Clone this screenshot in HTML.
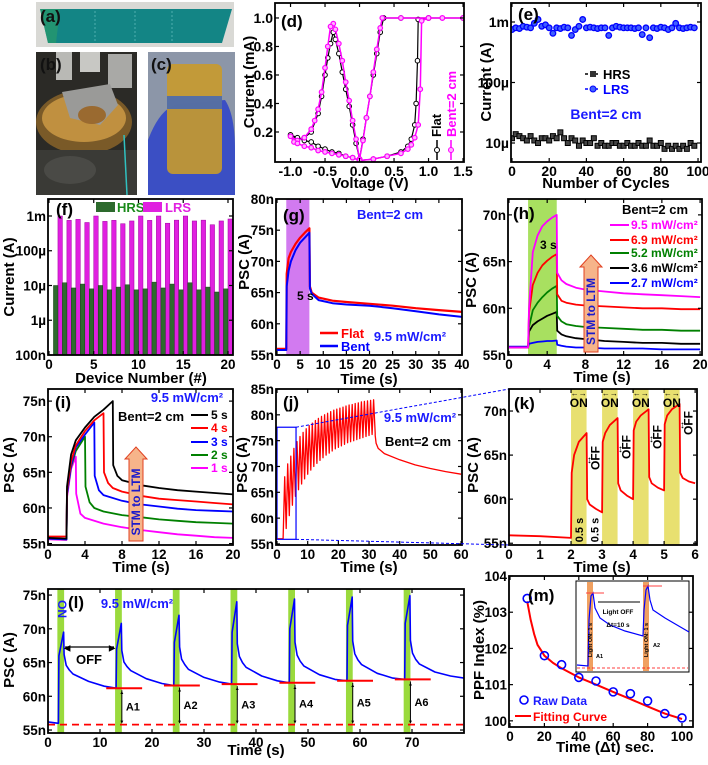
<!DOCTYPE html>
<html><head><meta charset="utf-8">
<style>
body{margin:0;background:#fff;width:708px;height:760px;overflow:hidden}
svg text{font-family:"Liberation Sans Narrow","Liberation Sans",sans-serif;font-weight:bold}
</style></head>
<body>
<svg id="fig" width="708" height="760" viewBox="0 0 708 760" xmlns="http://www.w3.org/2000/svg">
  <rect x="0" y="0" width="708" height="760" fill="#fff"/>
  <g>
    <rect x="36" y="2" width="198" height="45" fill="#d9d9d5"/>
    <polygon points="40,9 232,9 222,43 48,43" fill="#138585"/>
    <polygon points="40,9 60,9 56,43 48,43" fill="#2a9a6a" opacity="0.7"/>
    <line x1="95" y1="11" x2="95" y2="41" stroke="#4fb0b0" stroke-dasharray="2,2"/>
    <line x1="135" y1="11" x2="135" y2="41" stroke="#4fb0b0" stroke-dasharray="2,2"/>
    <line x1="172" y1="11" x2="172" y2="41" stroke="#4fb0b0" stroke-dasharray="2,2"/>
    <text x="40" y="22" font-size="17" fill="#111">(a)</text>
  </g>
  <g>
    <rect x="36" y="52" width="101" height="143" fill="#2b2a26"/>
    <rect x="56" y="52" width="16" height="28" fill="#b9b9b5"/>
    <rect x="80" y="52" width="20" height="20" fill="#c8c8c4"/>
    <rect x="108" y="54" width="24" height="34" fill="#a9a9a6"/>
    <ellipse cx="84" cy="122" rx="48" ry="32" fill="#7a5a28"/>
    <ellipse cx="84" cy="118" rx="42" ry="24" fill="#c09040"/>
    <polygon points="62,92 110,84 118,105 100,125 70,118" fill="#9a9a98"/>
    <ellipse cx="92" cy="115" rx="14" ry="9" fill="#9a6a30"/>
    <rect x="36" y="150" width="101" height="45" fill="#3a3a36"/>
    <ellipse cx="70" cy="170" rx="26" ry="14" fill="#4a4a46"/>
    <line x1="124" y1="135" x2="127" y2="195" stroke="#30c0c0" stroke-width="1.5"/>
    <text x="40" y="70" font-size="17" fill="#111">(b)</text>
  </g>
  <g>
    <rect x="148" y="52" width="87" height="143" fill="#8c96a8"/>
    <path d="M148,195 L148,140 Q160,108 178,104 L225,100 Q235,115 235,150 L235,195 Z" fill="#3b4fc4"/>
    <rect x="167" y="64" width="55" height="110" rx="6" fill="#c89a2c" opacity="0.9"/>
    <rect x="167" y="96" width="55" height="13" fill="#4a6ab0" opacity="0.9"/>
    <text x="151" y="70" font-size="17" fill="#111">(c)</text>
  </g>
</svg>
<script>
// ---------- DATA ----------
const dFlatV = [0,0.2,0.4,0.6,0.7,0.75,0.8,0.82,0.84,0.85,1.0,1.5,1.0,0.6,0.35,0.3,0.25,0.2,0.15,0.1,0.05,0,-0.05,-0.1,-0.15,-0.2,-0.25,-0.3,-0.35,-0.38,-0.42,-0.46,-0.5,-0.55,-0.6,-0.7,-0.8,-0.9,-1.0,-0.9,-0.8,-0.7,-0.6,-0.5,-0.4,-0.3,-0.2,-0.1,0];
const dFlatI = [0,0.01,0.03,0.06,0.1,0.15,0.25,0.4,0.7,0.99,1,1,1,1,1,0.9,0.75,0.6,0.45,0.3,0.15,0.01,0.12,0.25,0.38,0.5,0.62,0.75,0.85,0.9,0.82,0.72,0.6,0.45,0.33,0.2,0.16,0.15,0.18,0.16,0.14,0.13,0.1,0.08,0.06,0.05,0.03,0.02,0];
const dBentV = [0,0.2,0.4,0.6,0.7,0.75,0.8,0.85,0.88,0.9,1.0,1.2,1.5,1.2,1.0,0.6,0.33,0.3,0.25,0.2,0.15,0.1,0.05,0,-0.05,-0.1,-0.15,-0.2,-0.25,-0.3,-0.35,-0.38,-0.42,-0.46,-0.5,-0.55,-0.6,-0.65,-0.7,-0.8,-0.9,-1.0,-0.95,-0.9,-0.8,-0.7,-0.6,-0.5,-0.4,-0.3,-0.2,-0.1,0];
const dBentI = [0,0.01,0.03,0.05,0.08,0.11,0.16,0.25,0.5,0.98,1,1,1,1,1,1,1,0.93,0.78,0.62,0.45,0.3,0.14,0.01,0.15,0.28,0.42,0.55,0.7,0.82,0.92,0.96,0.94,0.8,0.65,0.48,0.36,0.28,0.22,0.16,0.14,0.17,0.13,0.12,0.1,0.09,0.07,0.06,0.05,0.04,0.03,0.02,0];
const eCycles = [0,2,4,6,8,10,12,14,16,18,20,22,24,26,28,30,32,34,36,38,40,42,44,46,48,50,52,54,56,58,60,62,64,66,68,70,72,74,76,78,80,82,84,86,88,90,92,94,96,98];
const eLRSmA = [0.75,0.8,0.78,0.85,0.82,0.8,0.95,1.1,0.85,0.9,0.8,0.65,0.8,0.78,0.82,0.8,0.6,0.75,0.85,1.1,0.8,0.82,0.8,0.78,0.8,0.8,0.6,0.8,0.85,0.82,0.8,0.8,0.8,0.78,0.8,0.62,0.8,0.55,0.8,0.78,0.82,0.8,0.75,0.8,0.95,0.8,0.78,0.8,0.82,0.8];
const eHRSuA = [12,14,13,12,11,13,11,10,12,12,11,13,12,15,12,10,12,11,9,11,10,10,12,9,10,9,9,10,10,9,9,10,9,9,10,9,9,11,9,9,10,8,9,8,9,8,9,8,10,9];
const fDevices = [1,2,3,4,5,6,7,8,9,10,11,12,13,14,15,16,17,18,19,20];
const fHRSuA = [10,12,8.5,11,8,10,7.5,9,10.5,7.5,8,12.5,8.5,11,7.5,12,7.5,9,6.5,8];
const fLRSmA = [1.0,0.75,0.8,0.65,1.0,0.7,0.75,0.6,0.72,1.0,0.75,1.0,0.62,0.76,1.0,0.72,0.76,0.56,0.72,0.82];
const gT = [0,1.9,2,2.1,2.5,3,4,5,6,7,7.1,7.5,9,12,15,20,25,30,35,40];
const gFlat = [56,56,56,68,70.5,71.5,72.8,73.8,74.6,75.3,66,65,64.2,63.7,63.5,63.2,62.9,62.5,62.2,61.9];
const gBent = [55.8,55.8,55.8,66,68.5,70,71.8,73,73.8,74.6,65.7,64.8,63.8,63.3,63.1,62.9,62.5,62,61.5,61.1];
const hT = [0,1.95,2,2.1,2.5,3,3.5,4,4.5,5,5.05,5.5,6,7,8,10,12,14,16,18,20];
const h95 = [55.8,55.8,55.8,60,66,67.8,68.8,69.3,69.7,70,63.8,63,62.6,62.2,62,61.8,61.6,61.5,61.4,61.3,61.2];
const h69 = [55.8,55.8,55.8,59.5,62.5,63.8,64.6,65.1,65.5,65.8,61.5,60.8,60.6,60.4,60.3,60.2,60.1,60,60,59.9,59.9];
const h52 = [55.8,55.8,55.8,58,59.8,60.6,61.2,61.7,62.1,62.4,59.2,58.6,58.3,58.1,58,57.9,57.8,57.7,57.7,57.6,57.6];
const h36 = [55.8,55.8,55.8,57.5,58.2,58.6,58.9,59.2,59.4,59.6,57.6,57.2,57,56.8,56.7,56.5,56.4,56.3,56.3,56.2,56.2];
const h27 = [55.9,55.9,55.9,56.2,56.3,56.4,56.45,56.5,56.5,56.55,56.1,56,55.9,55.8,55.8,55.7,55.7,55.7,55.6,55.6,55.6];
const i5T = [0,2,2.05,2.5,3,4,5,6,7,7.05,7.5,8,10,12,14,16,18,20];
const i5V = [55.8,55.7,63,67.5,69.5,71.3,72.8,73.8,75,66,64.5,63.9,63.2,62.8,62.5,62.3,62.1,61.9];
const i4T = [0,2,2.05,2.5,3,4,5,6,6.05,6.5,7,8,10,12,14,16,18,20];
const i4V = [56,56,62.5,66.5,68.8,70.8,72.3,73.3,65,63.5,62.8,62.3,61.7,61.3,61.1,60.9,60.7,60.5];
const i3T = [0,2,2.05,2.5,3,4,5,5.05,5.5,6,8,10,12,14,16,18,20];
const i3V = [55.7,55.6,62,66,68.5,70.3,72,64.5,62.5,61.8,61,60.5,60.2,59.9,59.7,59.6,59.5];
const i2T = [0,2,2.05,2.5,3,4,4.05,4.5,5,6,8,10,12,14,16,18,20];
const i2V = [55.7,55.6,62,65.8,68,70,63,60.8,60,59.5,59,58.7,58.4,58.2,58,57.9,57.8];
const i1T = [0,2,2.05,2.5,3,3.05,3.5,4,6,8,10,12,14,16,18,20];
const i1V = [55.6,55.5,61.5,65.5,67.2,62,59.2,58.6,57.8,57.3,56.9,56.6,56.3,56.1,55.9,55.8];
const jPeaks = [68,70.5,72,73.5,74.8,75.8,76.6,77.3,77.9,78.4,78.9,79.3,79.7,80,80.3,80.6,80.9,81.1,81.3,81.5,81.7,81.9,82,82.2,82.3,82.5,82.6,82.7,82.8,82.9];
const jTroughs = [58,60.5,62.5,64.2,65.5,66.6,67.6,68.5,69.3,70,70.6,71.2,71.7,72.2,72.6,73,73.4,73.7,74,74.3,74.6,74.8,75,75.2,75.4,75.6,75.8,76,76.2,76.4];
const jDecayT = [32,32.3,33,35,40,45,50,55,60];
const jDecayV = [76,74.5,73.5,72.5,71.3,70.3,69.6,69,68.5];
const kT = [0,1,2,2.02,2.1,2.25,2.5,2.52,2.6,2.8,3,3.02,3.1,3.25,3.5,3.52,3.6,3.8,4,4.02,4.1,4.25,4.5,4.52,4.6,4.8,5,5.02,5.1,5.25,5.5,5.52,5.6,5.8,6];
const kV = [55.9,55.8,55.6,63,65,66.5,67.5,60,59.4,58.9,58.5,66.5,67.5,68.4,69.2,61.8,61,60.4,60,67.8,68.8,69.5,70.2,62.5,61.8,61.3,61,68.5,69.5,70.2,70.8,63,62.4,62,61.8];
const kBands = [2,3,4,5];
const lStart = [1.8,12.9,24,35.1,46.2,57.3,68.4];
const lBase = [56,61.2,61.6,61.8,62,62.3,62.5];
const lRise = [66,67,68,69.5,70,70.5,70.8];
const lPeak = [69.5,70.8,72,74,74.4,74.7,74.9];
const lDrop = [66.2,66.8,67.3,67.8,68,68.2,68.3];
const lDrop2 = [64.6,65.1,65.5,65.9,66.1,66.3,66.4];
const lMid0 = [63.9,64.4,64.7,65,65.2,65.4,65.5];
const lMid = [63.3,63.8,64,64.3,64.5,64.7,64.8];
const lMid2 = [62.2,62.6,62.8,63,63.2,63.4,63.6];
const lMid3 = [61.5,61.9,62.1,62.3,62.5,62.7,63.0];
const lEnd = 62.7;
const lBaseline = 55.8;
const lLabels = ['A1','A2','A3','A4','A5','A6'];
const mT = [10,20,30,40,50,60,70,80,90,100];
const mRaw = [103.38,101.8,101.55,101.2,101.1,100.8,100.75,100.55,100.2,100.08];
const mFitT = [10,12,14,16,18,20,25,30,40,50,60,70,80,90,100];
const mFitV = [103.3,102.8,102.4,102.1,101.95,101.8,101.6,101.45,101.2,101.0,100.8,100.6,100.4,100.2,100.05];

// ---------- HELPERS ----------
const NS = 'http://www.w3.org/2000/svg';
const svg = document.getElementById('fig');
function mk(tag, attrs, parent, name) {
  const el = document.createElementNS(NS, tag);
  for (const k in attrs) el.setAttribute(k, attrs[k]);
  
  
  (parent || svg).appendChild(el);
  return el;
}
function tx(x, y, s, size, color, anchor, parent, name, rot) {
  const t = mk('text', {x: x, y: y, 'font-size': size, fill: color || '#000', 'text-anchor': anchor || 'start'}, parent, name);
  if (rot) t.setAttribute('transform', 'rotate(' + rot + ' ' + x + ' ' + y + ')');
  t.textContent = s;
  return t;
}
function panel(o) {
  o.g = mk('g', {}, svg, o.name);
  const lg = (v) => Math.log10(v);
  o.sx = (v) => o.L + (v - o.xd[0]) / (o.xd[1] - o.xd[0]) * (o.R - o.L);
  o.sy = o.ylog
    ? (v) => o.B - (lg(v) - lg(o.yd[0])) / (lg(o.yd[1]) - lg(o.yd[0])) * (o.B - o.T)
    : (v) => o.B - (v - o.yd[0]) / (o.yd[1] - o.yd[0]) * (o.B - o.T);
  const cp = mk('clipPath', {id: o.name + '-clip'}, o.g, o.name + '-clip');
  mk('rect', {x: o.L, y: o.T, width: o.R - o.L, height: o.B - o.T}, cp, o.name + '-clip-rect');
  o.dg = mk('g', {'clip-path': 'url(#' + o.name + '-clip)'}, o.g, o.name + '-plot-area');
  return o;
}
function frame(o) {
  const fs = o.fs || 13.5;
  o.xt.forEach((v, i) => {
    const x = o.sx(v);
    mk('line', {x1: x, y1: o.B, x2: x, y2: o.B - 4, stroke: '#000', 'stroke-width': 1.2}, o.g, o.name + '-x-tick');
    mk('line', {x1: x, y1: o.T, x2: x, y2: o.T + 4, stroke: '#000', 'stroke-width': 1.2}, o.g, o.name + '-x-tick-top');
    tx(x, o.B + 14, o.xl[i], fs, '#000', 'middle', o.g, o.name + '-x-tick-label');
  });
  o.yt.forEach((v, i) => {
    const y = o.sy(v);
    mk('line', {x1: o.L, y1: y, x2: o.L + 4, y2: y, stroke: '#000', 'stroke-width': 1.2}, o.g, o.name + '-y-tick');
    mk('line', {x1: o.R, y1: y, x2: o.R - 4, y2: y, stroke: '#000', 'stroke-width': 1.2}, o.g, o.name + '-y-tick-right');
    tx(o.L - 2, y + 5, o.yl[i], fs, '#000', 'end', o.g, o.name + '-y-tick-label');
  });
  mk('rect', {x: o.L, y: o.T, width: o.R - o.L, height: o.B - o.T, fill: 'none', stroke: '#000', 'stroke-width': 1.8}, o.g, o.name + '-frame');
  tx(o.xtx, o.xty, o.xtitle, 15, '#000', 'middle', o.g, o.name + '-x-axis-title');
  tx(o.ytx, o.yty, o.ytitle, 15, '#000', 'middle', o.g, o.name + '-y-axis-title', -90);
  tx(o.lx, o.ly, o.letter, 17, '#000', 'start', o.g, o.name + '-panel-label');
}
function line(o, xs, ys, color, w, name, dash) {
  const pts = xs.map((x, i) => o.sx(x).toFixed(1) + ',' + o.sy(ys[i]).toFixed(1)).join(' ');
  const a = {points: pts, fill: 'none', stroke: color, 'stroke-width': w, 'stroke-linejoin': 'round'};
  if (dash) a['stroke-dasharray'] = dash;
  return mk('polyline', a, o.dg, name);
}
function band(o, x0, x1, color, name) {
  return mk('rect', {x: o.sx(x0), y: o.T, width: o.sx(x1) - o.sx(x0), height: o.B - o.T, fill: color}, o.dg, name);
}
function range(a, b, s) { const r = []; for (let v = a; v <= b + 1e-9; v += s) r.push(+v.toFixed(6)); return r; }

// ---------- (d) ----------
const D = panel({name: 'panel-d', L: 275, R: 464, T: 3, B: 162, xd: [-1.225, 1.514], yd: [-0.0105, 1.105],
  xt: [-1, -0.5, 0, 0.5, 1, 1.5], xl: ['-1.0', '-0.5', '0.0', '0.5', '1.0', '1.5'],
  yt: [0.2, 0.4, 0.6, 0.8, 1.0], yl: ['0.2', '0.4', '0.6', '0.8', '1.0'],
  xtitle: 'Voltage (V)', xtx: 370, xty: 188, ytitle: 'Current (mA)', ytx: 254, yty: 82, letter: '(d)', lx: 281, ly: 27, fs: 14});
line(D, dFlatV, dFlatI, '#000', 1.2, 'flat-iv-line');
dFlatV.forEach((v, i) => mk('circle', {cx: D.sx(v), cy: D.sy(dFlatI[i]), r: 2.3, fill: '#fff', stroke: '#000', 'stroke-width': 1}, D.dg, 'flat-iv-point'));
line(D, dBentV, dBentI, '#ff00ff', 1.5, 'bent-iv-line');
dBentV.forEach((v, i) => mk('circle', {cx: D.sx(v), cy: D.sy(dBentI[i]), r: 2.3, fill: '#ffb0ff', stroke: '#ff00ff', 'stroke-width': 1.2}, D.dg, 'bent-iv-point'));
frame(D);
mk('line', {x1: 437, y1: 140, x2: 437, y2: 160, stroke: '#000', 'stroke-width': 1.5}, D.g, 'legend-flat-line');
mk('circle', {cx: 437, cy: 150, r: 2.5, fill: '#fff', stroke: '#000'}, D.g, 'legend-flat-marker');
tx(441, 137, 'Flat', 13, '#000', 'start', D.g, 'legend-flat-label', -90);
mk('line', {x1: 451, y1: 140, x2: 451, y2: 160, stroke: '#ff00ff', 'stroke-width': 1.5}, D.g, 'legend-bent-line');
mk('circle', {cx: 451, cy: 150, r: 2.5, fill: '#ffb0ff', stroke: '#ff00ff'}, D.g, 'legend-bent-marker');
tx(456, 137, 'Bent=2 cm', 13, '#ff00ff', 'start', D.g, 'legend-bent-label', -90);

// ---------- (e) ----------
const E = panel({name: 'panel-e', L: 511, R: 701, T: 3, B: 162, xd: [-0.53, 101.6], ylog: true, yd: [Math.pow(10, -5.314), Math.pow(10, -2.686)],
  xt: [0, 20, 40, 60, 80, 100], xl: ['0', '20', '40', '60', '80', '100'],
  yt: [1e-5, 1e-4, 1e-3], yl: ['10µ', '100µ', '1m'],
  xtitle: 'Number of Cycles', xtx: 606, xty: 188, ytitle: 'Current (A)', ytx: 491, yty: 82, letter: '(e)', lx: 518, ly: 20, fs: 14});
eCycles.forEach((c, i) => mk('rect', {x: E.sx(c) - 2.5, y: E.sy(eHRSuA[i] * 1e-6) - 2.5, width: 5, height: 5, fill: '#444', stroke: '#000', 'stroke-width': 1}, E.dg, 'hrs-point'));
eCycles.forEach((c, i) => mk('circle', {cx: E.sx(c), cy: E.sy(eLRSmA[i] * 1e-3), r: 2.8, fill: '#4060ff', stroke: '#0000ff', 'stroke-width': 1.3}, E.dg, 'lrs-point'));
frame(E);
mk('line', {x1: 585, y1: 74, x2: 600, y2: 74, stroke: '#000', 'stroke-width': 1.5, 'stroke-dasharray': '3,2'}, E.g, 'legend-hrs-line');
mk('rect', {x: 590, y: 71, width: 6, height: 6, fill: '#333'}, E.g, 'legend-hrs-marker');
tx(603, 79, 'HRS', 13, '#000', 'start', E.g, 'legend-hrs-label');
mk('line', {x1: 585, y1: 89, x2: 600, y2: 89, stroke: '#0000ff', 'stroke-width': 1.5, 'stroke-dasharray': '3,2'}, E.g, 'legend-lrs-line');
mk('circle', {cx: 593, cy: 89, r: 3, fill: '#4060ff', stroke: '#0000ff'}, E.g, 'legend-lrs-marker');
tx(603, 94, 'LRS', 13, '#0000ff', 'start', E.g, 'legend-lrs-label');
tx(606, 119, 'Bent=2 cm', 14, '#1a1aff', 'middle', E.g, 'bent-annotation');

// ---------- (f) ----------
const F = panel({name: 'panel-f', L: 48, R: 233, T: 199, B: 355, xd: [-0.11, 20.56], ylog: true, yd: [1e-7, Math.pow(10, -2.511)],
  xt: [0, 5, 10, 15, 20], xl: ['0', '5', '10', '15', '20'],
  yt: [1e-7, 1e-6, 1e-5, 1e-4, 1e-3], yl: ['100n', '1µ', '10µ', '100µ', '1m'],
  xtitle: 'Device Number (#)', xtx: 141, xty: 383, ytitle: 'Current (A)', ytx: 14, yty: 277, letter: '(f)', lx: 56, ly: 215});
fDevices.forEach((d, i) => {
  mk('rect', {x: F.sx(d), y: F.sy(fLRSmA[i] * 1e-3), width: F.sx(0.5) - F.sx(0), height: F.B - F.sy(fLRSmA[i] * 1e-3), fill: '#e020e0', stroke: '#a000a0', 'stroke-width': 0.5}, F.dg, 'lrs-bar');
  mk('rect', {x: F.sx(d - 0.5), y: F.sy(fHRSuA[i] * 1e-6), width: F.sx(d) - F.sx(d - 0.5), height: F.B - F.sy(fHRSuA[i] * 1e-6), fill: '#2d6a2d', stroke: '#174017', 'stroke-width': 0.5}, F.dg, 'hrs-bar');
});
frame(F);
mk('rect', {x: 96, y: 202, width: 19, height: 10, fill: '#2d6a2d'}, F.g, 'legend-hrs-swatch');
tx(117, 212, 'HRS', 13, '#1a8a1a', 'start', F.g, 'legend-hrs-label');
mk('rect', {x: 143, y: 202, width: 19, height: 10, fill: '#e020e0'}, F.g, 'legend-lrs-swatch');
tx(165, 212, 'LRS', 13, '#e020e0', 'start', F.g, 'legend-lrs-label');

// ---------- (g) ----------
const G = panel({name: 'panel-g', L: 276, R: 462, T: 199, B: 355, xd: [-0.22, 40], yd: [55, 80],
  xt: range(0, 40, 5), xl: range(0, 40, 5).map(String),
  yt: range(55, 80, 5), yl: range(55, 80, 5).map(v => v + 'n'),
  xtitle: 'Time (s)', xtx: 369, xty: 384, ytitle: 'PSC (A)', ytx: 249, yty: 262, letter: '(g)', lx: 283, ly: 221});
band(G, 2, 7, '#d27af0', 'light-on-band');
line(G, gT, gFlat, '#ff0000', 2.2, 'flat-psc-line');
line(G, gT, gBent, '#0000ff', 2, 'bent-psc-line');
frame(G);
tx(297, 300, '5 s', 12, '#000', 'start', G.g, 'pulse-duration-label');
tx(390, 219, 'Bent=2 cm', 13, '#1a1aff', 'middle', G.g, 'bent-annotation');
mk('line', {x1: 320, y1: 333, x2: 338, y2: 333, stroke: '#ff0000', 'stroke-width': 2.5}, G.g, 'legend-flat-line');
tx(341, 338, 'Flat', 13, '#ff0000', 'start', G.g, 'legend-flat-label');
mk('line', {x1: 320, y1: 346, x2: 338, y2: 346, stroke: '#0000ff', 'stroke-width': 2.5}, G.g, 'legend-bent-line');
tx(341, 351, 'Bent', 13, '#0000ff', 'start', G.g, 'legend-bent-label');
tx(410, 341, '9.5 mW/cm²', 13, '#1a1aff', 'middle', G.g, 'intensity-annotation');

// ---------- (h) ----------
const H = panel({name: 'panel-h', L: 508, R: 702, T: 199, B: 355, xd: [-0.1, 20.2], yd: [55, 71.7],
  xt: range(0, 20, 4), xl: range(0, 20, 4).map(String),
  yt: [55, 60, 65, 70], yl: ['55n', '60n', '65n', '70n'],
  xtitle: 'Time (s)', xtx: 602, xty: 382, ytitle: 'PSC (A)', ytx: 476, yty: 280, letter: '(h)', lx: 513, ly: 219});
band(H, 2, 5, '#a8e060', 'light-on-band');
line(H, hT, h27, '#0000ff', 1.8, 'series-2.7');
line(H, hT, h36, '#000', 1.8, 'series-3.6');
line(H, hT, h52, '#008000', 1.8, 'series-5.2');
line(H, hT, h69, '#ff0000', 1.8, 'series-6.9');
line(H, hT, h95, '#ff00ff', 1.8, 'series-9.5');
frame(H);
tx(540, 249, '3 s', 12, '#000', 'start', H.g, 'pulse-duration-label');
tx(655, 214, 'Bent=2 cm', 13, '#000', 'middle', H.g, 'bent-annotation');
const hLeg = [['9.5 mW/cm²', '#ff00ff', 225], ['6.9 mW/cm²', '#ff0000', 240], ['5.2 mW/cm²', '#008000', 253], ['3.6 mW/cm²', '#000', 268], ['2.7 mW/cm²', '#0000ff', 283]];
hLeg.forEach(l => {
  mk('line', {x1: 610, y1: l[2], x2: 629, y2: l[2], stroke: l[1], 'stroke-width': 2}, H.g, 'legend-line');
  tx(631, l[2] + 4, l[0], 12, l[1], 'start', H.g, 'legend-label');
});
function stmArrow(parent, cx, top, bottom, name) {
  const g = mk('g', {}, parent, name);
  const pts = [[cx - 7, bottom], [cx - 7, top + 12], [cx - 11, top + 12], [cx, top], [cx + 11, top + 12], [cx + 7, top + 12], [cx + 7, bottom]].map(p => p.join(',')).join(' ');
  mk('polygon', {points: pts, fill: '#f6b48a', stroke: '#e04020', 'stroke-width': 1}, g, name + '-shape');
  tx(cx + 4, (top + bottom) / 2 + 8, 'STM to LTM', 12, '#1a1acc', 'middle', g, name + '-label', -90);
}
stmArrow(H.g, 591, 255, 352, 'stm-ltm-arrow');

// ---------- (i) ----------
const I = panel({name: 'panel-i', L: 48, R: 233, T: 389, B: 545, xd: [0, 20], yd: [54.8, 76.7],
  xt: range(0, 20, 4), xl: range(0, 20, 4).map(String),
  yt: range(55, 75, 5), yl: range(55, 75, 5).map(v => v + 'n'),
  xtitle: 'Time (s)', xtx: 141, xty: 572, ytitle: 'PSC (A)', ytx: 14, yty: 465, letter: '(i)', lx: 55, ly: 408});
line(I, i1T, i1V, '#ff00ff', 1.8, 'series-1s');
line(I, i2T, i2V, '#008000', 1.8, 'series-2s');
line(I, i3T, i3V, '#0000ff', 1.8, 'series-3s');
line(I, i4T, i4V, '#ff0000', 1.8, 'series-4s');
line(I, i5T, i5V, '#000', 1.8, 'series-5s');
frame(I);
tx(187, 402, '9.5 mW/cm²', 13, '#1a1aff', 'middle', I.g, 'intensity-annotation');
tx(118, 421, 'Bent=2 cm', 13, '#000', 'start', I.g, 'bent-annotation');
const iLeg = [['5 s', '#000', 415], ['4 s', '#ff0000', 428], ['3 s', '#0000ff', 442], ['2 s', '#008000', 455], ['1 s', '#ff00ff', 468]];
iLeg.forEach(l => {
  mk('line', {x1: 191, y1: l[2], x2: 208, y2: l[2], stroke: l[1], 'stroke-width': 2}, I.g, 'legend-line');
  tx(211, l[2] + 4, l[0], 12, l[1], 'start', I.g, 'legend-label');
});
stmArrow(I.g, 136, 447, 541, 'stm-ltm-arrow');

// ---------- (j) ----------
const J = panel({name: 'panel-j', L: 276, R: 462, T: 389, B: 545, xd: [-0.33, 60.3], yd: [54.8, 85],
  xt: range(0, 60, 10), xl: range(0, 60, 10).map(String),
  yt: range(55, 85, 5), yl: range(55, 85, 5).map(v => v + 'n'),
  xtitle: 'Time (s)', xtx: 369, xty: 572, ytitle: 'PSC (A)', ytx: 247, yty: 465, letter: '(j)', lx: 283, ly: 408});
const jx = [0, 2], jy = [56, 56];
jPeaks.forEach((p, i) => { jx.push(2 + i + 0.5); jy.push(p); jx.push(2 + i + 1); jy.push(jTroughs[i]); });
jDecayT.forEach((t, i) => { jx.push(t); jy.push(jDecayV[i]); });
line(J, jx, jy, '#ff0000', 1.3, 'pulse-train-line');
mk('rect', {x: J.sx(0), y: J.sy(77.6), width: J.sx(6.2) - J.sx(0), height: J.sy(55.9) - J.sy(77.6), fill: 'none', stroke: '#0000ff', 'stroke-width': 1.2}, J.g, 'zoom-box');
frame(J);
tx(420, 422, '9.5 mW/cm²', 13, '#1a1aff', 'middle', J.g, 'intensity-annotation');
tx(418, 446, 'Bent=2 cm', 13, '#000', 'middle', J.g, 'bent-annotation');
mk('line', {x1: J.sx(6.2), y1: J.sy(77.6), x2: 509, y2: 389, stroke: '#0000ff', 'stroke-width': 1, 'stroke-dasharray': '3,2'}, svg, 'zoom-connector-top');
mk('line', {x1: J.sx(6.2), y1: J.sy(55.9), x2: 509, y2: 545, stroke: '#0000ff', 'stroke-width': 1, 'stroke-dasharray': '3,2'}, svg, 'zoom-connector-bottom');

// ---------- (k) ----------
const K = panel({name: 'panel-k', L: 509, R: 697, T: 389, B: 545, xd: [0, 6.06], yd: [54.8, 72.5],
  xt: range(0, 6, 1), xl: range(0, 6, 1).map(String),
  yt: [55, 60, 65, 70], yl: ['55n', '60n', '65n', '70n'],
  xtitle: 'Time (s)', xtx: 602, xty: 572, ytitle: 'PSC (A)', ytx: 478, yty: 465, letter: '(k)', lx: 514, ly: 409});
kBands.forEach(b => band(K, b, b + 0.5, '#e8e070', 'light-on-band'));
line(K, kT, kV, '#ff0000', 1.8, 'psc-line');
frame(K);
kBands.forEach(b => {
  const cx = K.sx(b + 0.25);
  tx(cx, 396, '←→', 8, '#000', 'middle', K.g, 'on-arrow');
  tx(cx, 407, 'ON', 12, '#000', 'middle', K.g, 'on-label');
});
const kOffY = [458, 447, 437, 423];
kBands.forEach((b, i) => {
  const x = K.sx(b + 0.75);
  tx(x + 5, kOffY[i], 'OFF', 12, '#000', 'middle', K.g, 'off-label', -90);
  tx(x - 5, kOffY[i] + 5, '↕', 10, '#000', 'middle', K.g, 'off-arrow');
});
tx(K.sx(2.25) + 4, 530, '0.5 s', 11, '#000', 'middle', K.g, 'on-duration-label', -90);
tx(K.sx(2.75) + 4, 530, '0.5 s', 11, '#000', 'middle', K.g, 'off-duration-label', -90);

// ---------- (l) ----------
const Lp = panel({name: 'panel-l', L: 48, R: 464, T: 589, B: 733, xd: [0, 80], yd: [54.56, 75.9],
  xt: range(0, 70, 10), xl: range(0, 70, 10).map(String),
  yt: range(55, 75, 5), yl: range(55, 75, 5).map(v => v + 'n'),
  xtitle: 'Time (s)', xtx: 256, xty: 755, ytitle: 'PSC (A)', ytx: 14, yty: 660, letter: '(l)', lx: 68, ly: 608});
lStart.forEach(s => band(Lp, s, s + 1.3, '#9ada3c', 'light-on-band'));
mk('line', {x1: Lp.L, y1: Lp.sy(lBaseline), x2: Lp.R, y2: Lp.sy(lBaseline), stroke: '#ff0000', 'stroke-width': 1.8, 'stroke-dasharray': '7,5'}, Lp.dg, 'baseline-dashed');
const lx = [0], ly = [56.2];
lStart.forEach((s, i) => {
  lx.push(s + 0.2, s + 0.3, s + 1.2, s + 1.3, s + 1.7, s + 2.3, s + 3, s + 6, s + 9);
  ly.push(lBase[i], lRise[i], lPeak[i], lDrop[i], lDrop2[i], lMid0[i], lMid[i], lMid2[i], lMid3[i]);
  const next = i + 1 < lStart.length ? lStart[i + 1] + 0.19 : 80;
  lx.push(next);
  ly.push(i + 1 < lStart.length ? lBase[i + 1] : lEnd);
});
line(Lp, lx, ly, '#0000ff', 1.6, 'psc-line');
lStart.slice(1).forEach((s, i) => {
  const yb = Lp.sy(lBase[i + 1]);
  mk('line', {x1: Lp.sx(s - 1.7), y1: yb, x2: Lp.sx(s + 5.2), y2: yb, stroke: '#ff0000', 'stroke-width': 2}, Lp.g, 'level-marker');
  const ax = Lp.sx(s + 1.3);
  mk('line', {x1: ax, y1: yb + 2, x2: ax, y2: Lp.sy(lBaseline) - 2, stroke: '#000', 'stroke-width': 1}, Lp.g, 'amplitude-arrow');
  tx(ax, yb + 6, '▲', 5, '#000', 'middle', Lp.g, 'arrow-head-up');
  tx(ax, Lp.sy(lBaseline) - 1, '▼', 5, '#000', 'middle', Lp.g, 'arrow-head-down');
  tx(ax + 4, (yb + Lp.sy(lBaseline)) / 2 + 4, lLabels[i], 11, '#000', 'start', Lp.g, 'amplitude-label');
});
frame(Lp);
tx(58, 600, 'ON', 12, '#1a1aff', 'start', Lp.g, 'on-label', 90);
tx(137, 608, '9.5 mW/cm²', 13, '#1a1aff', 'middle', Lp.g, 'intensity-annotation');
mk('line', {x1: Lp.sx(3.3), y1: 647, x2: Lp.sx(12.7), y2: 647, stroke: '#000', 'stroke-width': 1.3}, Lp.g, 'off-arrow');
tx(Lp.sx(3.3) + 2, 650.5, '◀', 8, '#000', 'middle', Lp.g, 'off-arrow-left');
tx(Lp.sx(12.7) - 2, 650.5, '▶', 8, '#000', 'middle', Lp.g, 'off-arrow-right');
tx(89, 664, 'OFF', 13, '#000', 'middle', Lp.g, 'off-label');

// ---------- (m) ----------
const M = panel({name: 'panel-m', L: 509, R: 693, T: 576, B: 727, xd: [-0.58, 106.4], yd: [99.83, 104],
  xt: range(0, 100, 20), xl: range(0, 100, 20).map(String),
  yt: range(100, 104, 1), yl: range(100, 104, 1).map(String),
  xtitle: 'Time (Δt) sec.', xtx: 605, xty: 752, ytitle: 'PPF Index (%)', ytx: 484, yty: 650, letter: '(m)', lx: 528, ly: 601});
line(M, mFitT, mFitV, '#ff0000', 2, 'fitting-curve');
mT.forEach((t, i) => mk('circle', {cx: M.sx(t), cy: M.sy(mRaw[i]), r: 4, fill: 'none', stroke: '#0000ff', 'stroke-width': 1.6}, M.dg, 'raw-data-point'));
frame(M);
mk('circle', {cx: 524, cy: 700, r: 4, fill: 'none', stroke: '#0000ff', 'stroke-width': 1.6}, M.g, 'legend-raw-marker');
tx(533, 705, 'Raw Data', 12, '#1a1aff', 'start', M.g, 'legend-raw-label');
mk('line', {x1: 515, y1: 716, x2: 531, y2: 716, stroke: '#ff0000', 'stroke-width': 2}, M.g, 'legend-fit-line');
tx(533, 721, 'Fitting Curve', 12, '#ff0000', 'start', M.g, 'legend-fit-label');
const ins = mk('g', {}, M.g, 'inset-schematic');
mk('rect', {x: 576, y: 581, width: 113, height: 91, fill: '#fff', stroke: '#000', 'stroke-width': 1}, ins, 'inset-frame');
mk('rect', {x: 587, y: 582, width: 6, height: 89, fill: '#f0a060'}, ins, 'inset-band-1');
mk('rect', {x: 643, y: 582, width: 6, height: 89, fill: '#f0a060'}, ins, 'inset-band-2');
mk('line', {x1: 577, y1: 668, x2: 688, y2: 668, stroke: '#ff0000', 'stroke-width': 0.8, 'stroke-dasharray': '3,2'}, ins, 'inset-baseline');
mk('polyline', {points: '577,665 588,666 589,620 591,596 593,593 595,608 600,618 610,625 625,631 643,636 644,610 646,590 648,586 650,600 653,610 665,618 689,632', fill: 'none', stroke: '#0000ff', 'stroke-width': 1.2}, ins, 'inset-curve');
mk('line', {x1: 586, y1: 593, x2: 604, y2: 593, stroke: '#ff4040', 'stroke-width': 1}, ins, 'inset-peak-1');
mk('line', {x1: 643, y1: 586, x2: 662, y2: 586, stroke: '#ff4040', 'stroke-width': 1}, ins, 'inset-peak-2');
mk('line', {x1: 598, y1: 602, x2: 640, y2: 602, stroke: '#000', 'stroke-width': 1}, ins, 'inset-off-arrow');
tx(618, 614, 'Light OFF', 6.5, '#000', 'middle', ins, 'inset-off-label');
tx(618, 627, 'Δt=10 s', 6.5, '#000', 'middle', ins, 'inset-dt-label');
tx(592, 640, 'Light ON: 1 s', 5.5, '#000', 'middle', ins, 'inset-on-label-1', -90);
tx(648, 640, 'Light ON: 1 s', 5.5, '#000', 'middle', ins, 'inset-on-label-2', -90);
tx(596, 658, 'A1', 5.5, '#000', 'start', ins, 'inset-a1');
tx(653, 647, 'A2', 5.5, '#000', 'start', ins, 'inset-a2');
</script>
</body></html>
